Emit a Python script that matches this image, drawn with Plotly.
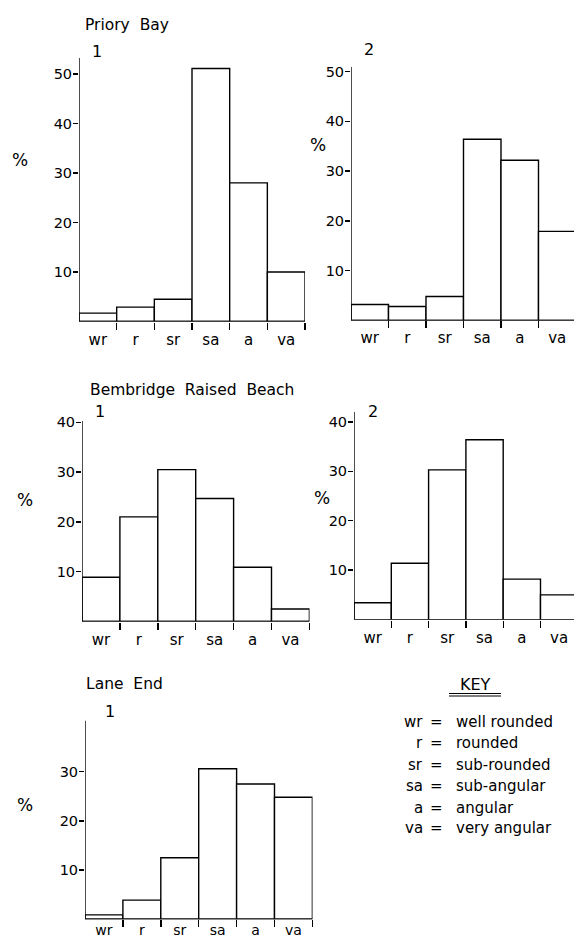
import plotly.graph_objects as go

# ---------------- data ----------------
categories = ["wr", "r", "sr", "sa", "a", "va"]
priory_bay_1 = [1.7, 2.9, 4.5, 51.1, 28.0, 10.0]
priory_bay_2 = [3.2, 2.8, 4.8, 36.4, 32.2, 17.9]
bembridge_1 = [8.9, 21.0, 30.5, 24.7, 10.9, 2.5]
bembridge_2 = [3.4, 11.4, 30.3, 36.4, 8.2, 5.0]
lane_end_1 = [0.9, 3.9, 12.5, 30.6, 27.5, 24.8]

ticks_50 = [10, 20, 30, 40, 50]
ticks_40 = [10, 20, 30, 40]
ticks_30 = [10, 20, 30]

key_abbr = ["wr", "r", "sr", "sa", "a", "va"]
key_desc = ["well rounded", "rounded", "sub-rounded", "sub-angular", "angular", "very angular"]

site_titles = ["Priory\u00a0 Bay", "Bembridge\u00a0 Raised\u00a0 Beach", "Lane\u00a0 End"]

# ---------------- layout geometry (pixels) ----------------
W, H = 574, 939
FONT = "DejaVu Sans"
LW = 1.4
panels = [
    dict(vals=priory_bay_1, left=79, right=305, bw=37.67, y0=321.5, ppu=4.95, ymax=53.3, yt=ticks_50, lab=4, fs=15),
    dict(vals=priory_bay_2, left=351, right=574, bw=37.5, y0=320.4, ppu=4.975, ymax=51.0, yt=ticks_50, lab=4, fs=15),
    dict(vals=bembridge_1, left=82, right=309.5, bw=37.9, y0=621.5, ppu=4.98, ymax=40.3, yt=ticks_40, lab=4, fs=15),
    dict(vals=bembridge_2, left=354, right=574, bw=37.3, y0=619.6, ppu=4.94, ymax=42.1, yt=ticks_40, lab=4, fs=15),
    dict(vals=lane_end_1, left=85, right=312.5, bw=37.9, y0=919.3, ppu=4.92, ymax=40.4, yt=ticks_30, lab=0, fs=14),
]

fig = go.Figure()
layout = dict(
    width=W, height=H,
    margin=dict(l=0, r=0, t=0, b=0, autoexpand=False),
    paper_bgcolor="white", plot_bgcolor="rgba(0,0,0,0)",
    showlegend=False, bargap=0,
    font=dict(family=FONT, size=15, color="black"),
)

shapes = []
xs = list(range(len(categories)))
for i, p in enumerate(panels):
    n = "" if i == 0 else str(i + 1)
    fig.add_trace(go.Bar(
        x=xs, y=p["vals"], width=1.0,
        marker=dict(color="white", line=dict(color="black", width=LW)),
        xaxis="x" + n, yaxis="y" + n, hoverinfo="skip",
    ))
    xmax = -0.5 + (p["right"] - p["left"]) / p["bw"]
    ytop = p["y0"] - p["ymax"] * p["ppu"]
    layout["xaxis" + n] = dict(
        domain=[p["left"] / W, min(p["right"] / W, 1.0)],
        range=[-0.5, xmax],
        anchor="y" + n, automargin=False,
        showgrid=False, zeroline=False, showline=False,
        tickmode="array", tickvals=xs, ticktext=categories,
        ticks="outside", ticklen=p["lab"], tickcolor="rgba(0,0,0,0)",
        ticklabelstandoff=(-2 if p["lab"] == 0 else 0),
        tickfont=dict(family=FONT, size=p["fs"], color="black"),
        minor=dict(tickmode="array", tickvals=[k + 0.5 for k in xs],
                   ticks="outside", ticklen=7, tickwidth=LW, tickcolor="black",
                   showgrid=False),
        fixedrange=True,
    )
    layout["yaxis" + n] = dict(
        domain=[1 - p["y0"] / H, 1 - ytop / H],
        range=[0, p["ymax"]],
        anchor="x" + n, automargin=False,
        showgrid=False, zeroline=False, showline=False,
        tickmode="array", tickvals=p["yt"],
        ticks="outside", ticklen=5, tickwidth=LW, tickcolor="black",
        ticklabelstandoff=-2,
        tickfont=dict(family=FONT, size=14.5, color="black"),
        fixedrange=True,
    )
    # baseline and vertical axis drawn in data coordinates
    shapes.append(dict(type="line", xref="x" + n, yref="y" + n,
                       x0=-0.5, x1=xmax, y0=0, y1=0,
                       line=dict(color="black", width=LW), layer="above"))
    shapes.append(dict(type="line", xref="x" + n, yref="y" + n,
                       x0=-0.5, x1=-0.5, y0=0, y1=p["ymax"],
                       line=dict(color="black", width=LW), layer="above"))

fig.update_layout(**layout)

annotations = []


def txt(s, x, y, anchor="center", size=15):
    annotations.append(dict(
        text=s, x=x / W, y=1 - y / H, xref="paper", yref="paper",
        xanchor=anchor, yanchor="middle", showarrow=False,
        font=dict(family=FONT, size=size, color="black"),
    ))


# site titles
txt(site_titles[0], 83, 25, "left", 15.5)
txt(site_titles[1], 88, 390, "left", 15.5)
txt(site_titles[2], 84, 684, "left", 15.5)
# sample numbers
txt("1", 97, 51, size=16)
txt("2", 369, 50, size=16)
txt("1", 100, 411, size=16)
txt("2", 373, 411, size=16)
txt("1", 110, 711, size=16)
# percent signs
txt("%", 20, 160, size=17)
txt("%", 318, 145, size=17)
txt("%", 25, 500, size=17)
txt("%", 322, 498, size=17)
txt("%", 25, 805, size=17)

# key
txt("KEY", 475, 684, size=16)
row_y = [722, 743, 765, 786, 808, 828]
for k, (a, d) in enumerate(zip(key_abbr, key_desc)):
    txt(a, 425, row_y[k], "right")
    txt("=", 436, row_y[k])
    txt(d, 454, row_y[k], "left")

# double underline of KEY
for yy in (693.5, 696):
    shapes.append(dict(type="line", xref="paper", yref="paper",
                       x0=449 / W, x1=501 / W, y0=1 - yy / H, y1=1 - yy / H,
                       line=dict(color="black", width=1.2)))

fig.update_layout(annotations=annotations, shapes=shapes)

fig.write_html(
    "out.html",
    config={"displayModeBar": False, "staticPlot": True},
    post_script="document.body.style.margin='0';document.body.style.overflow='hidden';",
)
